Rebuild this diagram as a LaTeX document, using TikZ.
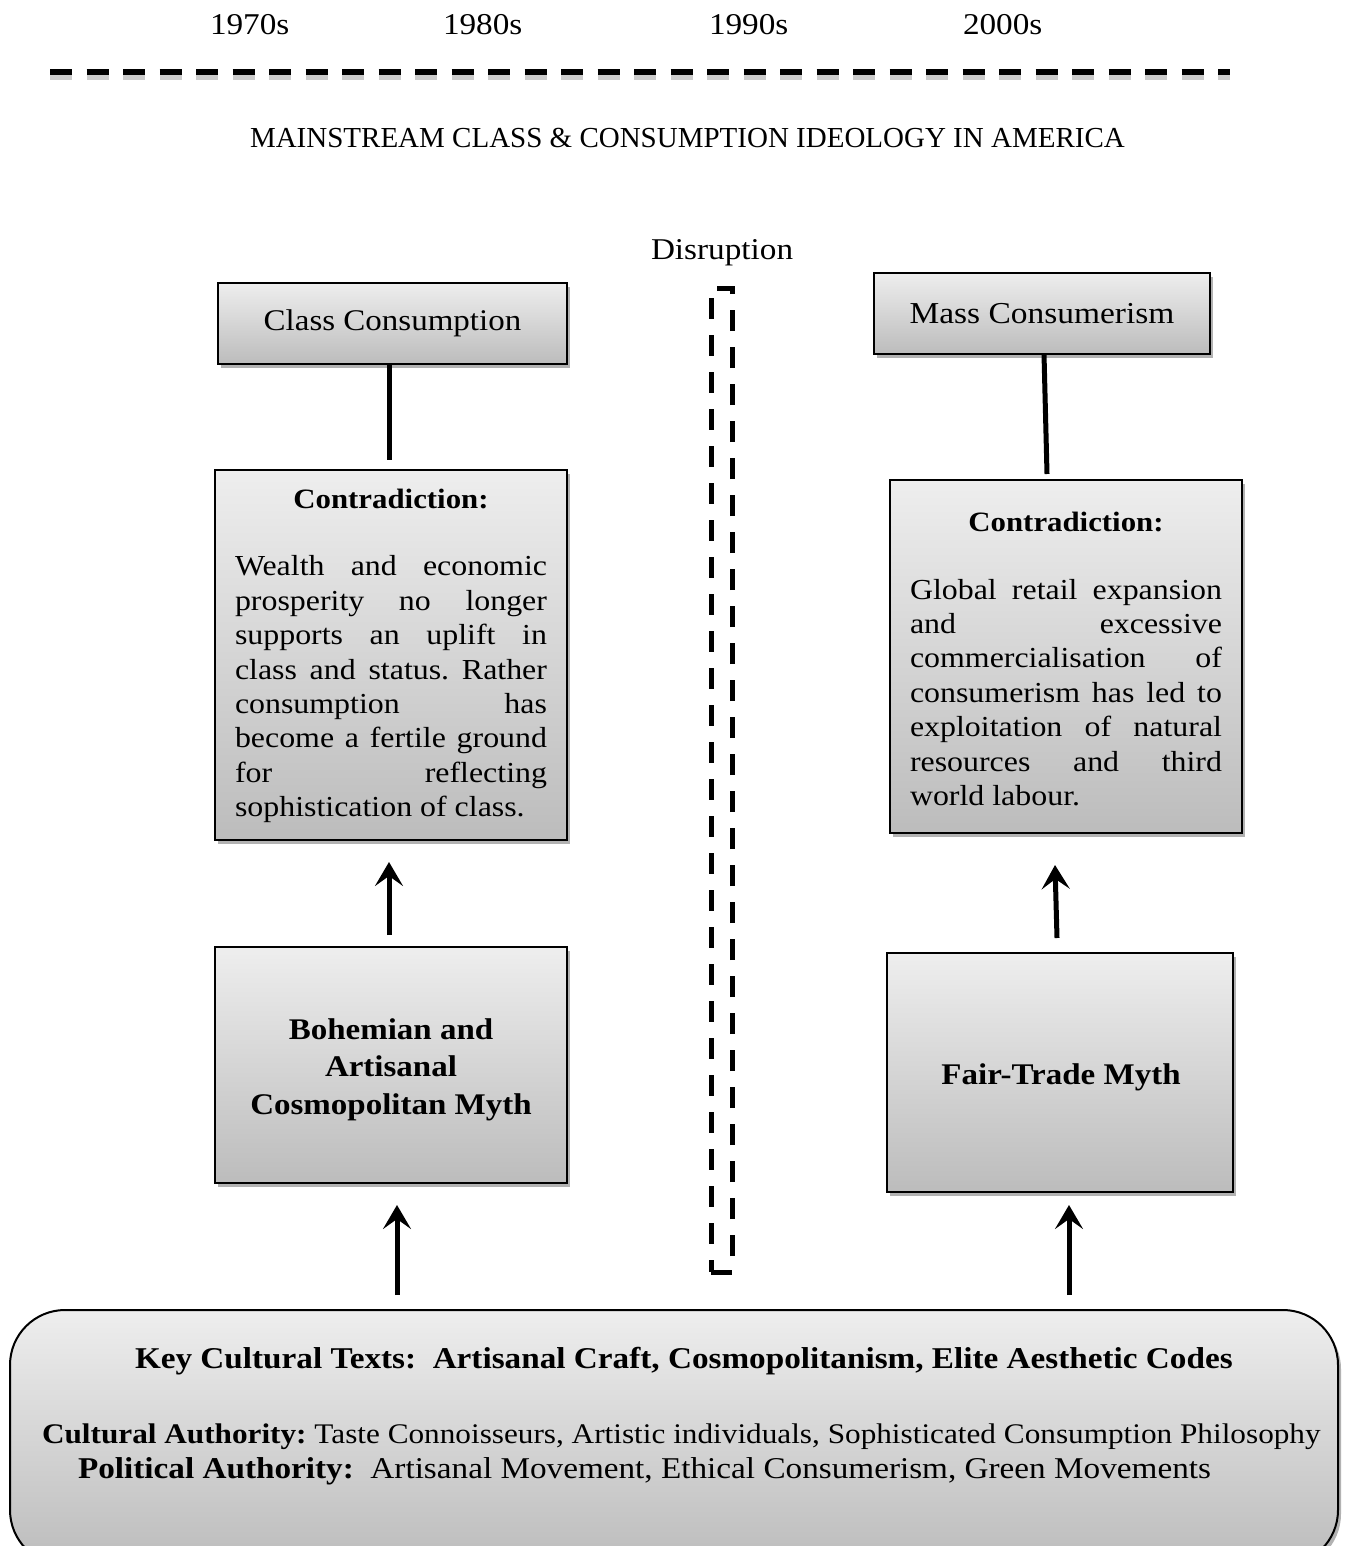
\documentclass[tikz,border=0pt]{standalone}
\usepackage{fontspec}
\setmainfont{Liberation Serif}[FakeStretch=1.1]
\newfontfamily\headfont{Liberation Serif}
\usetikzlibrary{arrows.meta,shadows,calc}
\frenchspacing

\definecolor{boxtop}{RGB}{238,238,238}
\definecolor{boxbot}{RGB}{188,188,188}

\begin{document}
\begin{tikzpicture}[x=1pt,y=-1pt,
  every node/.style={inner sep=0pt, outer sep=0pt},
  panel/.style={draw=black, line width=2pt, top color=boxtop, bottom color=boxbot,
    drop shadow={shadow xshift=3pt, shadow yshift=-4pt, opacity=0.3, fill=black}},
  bodytext/.style={font=\fontsize{29}{34.4}\selectfont},
  labeltext/.style={font=\fontsize{30.2}{34.4}\selectfont},
  boldtext/.style={font=\fontsize{30}{37.5}\selectfont\bfseries},
  bottomtext/.style={anchor=base west},
  link/.style={line width=5pt},
  flow/.style={line width=5pt, -{Stealth[length=24pt,width=28pt,inset=10pt]}},
  timeline/.style={line width=6pt, dash pattern=on 22pt off 14.5pt},
  gapline/.style={line width=5pt, dash pattern=on 21pt off 16pt}
]
\useasboundingbox (0,0) rectangle (1348,1546);

% decades along the top
\node[labeltext, anchor=base west] (y70) at (210,35) {1970s};
\node[labeltext, anchor=base west] (y80) at (443,35) {1980s};
\node[labeltext, anchor=base west] (y90) at (709,35) {1990s};
\node[labeltext, anchor=base west] (y00) at (963,35) {2000s};

% dashed time axis with its soft shadow
\coordinate (axisL) at (50,72);
\coordinate (axisR) at (1230,72);
\draw[timeline, draw=black, opacity=0.2, transform canvas={yshift=-5pt}] (axisL) -- (axisR);
\draw[timeline] (axisL) -- (axisR);

\node[anchor=base west, font=\headfont\fontsize{29}{34}\selectfont] (title) at (250,147.5)
  {MAINSTREAM CLASS \& CONSUMPTION IDEOLOGY IN AMERICA};

% disruption marker
\node[labeltext, anchor=base west] (disruptlabel) at (651,259) {Disruption};
\node[gapline, draw, minimum width=21pt, minimum height=984pt] (disrupt) at (721.5,780) {};

% left column
\node[panel, font=\fontsize{30}{34}\selectfont, minimum width=349pt, minimum height=81pt] (classC) at (392.5,323.5) {Class Consumption};

\node[panel, minimum width=352pt, minimum height=370pt] (contraL) at (391,655) {};
\node[bodytext, text width=312pt, align=justify] (contraLtext) at (391,656)
  {\makebox[312pt]{\fontsize{28}{34.4}\selectfont\bfseries Contradiction:}\par\vspace{33pt}
   Wealth and economic\linebreak
   prosperity no longer\linebreak
   supports an uplift in\linebreak
   class and status. Rather\linebreak
   consumption has\linebreak
   become a fertile ground\linebreak
   for reflecting\linebreak
   sophistication of class.};

\node[panel, minimum width=352pt, minimum height=236pt] (bohem) at (391,1065) {};
\node[boldtext, align=center, anchor=base] (bohemtext) at (391,1114)
  {Bohemian and\\Artisanal\\Cosmopolitan Myth};

% right column
\node[panel, font=\fontsize{30.4}{34}\selectfont, minimum width=336pt, minimum height=81pt] (massC) at (1042,313.5) {Mass Consumerism};

\node[panel, minimum width=352pt, minimum height=353pt] (contraR) at (1066,656.5) {};
\node[bodytext, text width=312pt, align=justify] (contraRtext) at (1066,659)
  {\makebox[312pt]{\fontsize{28}{34.4}\selectfont\bfseries Contradiction:}\par\vspace{33pt}
   Global retail expansion\linebreak
   and excessive\linebreak
   commercialisation of\linebreak
   consumerism has led to\linebreak
   exploitation of natural\linebreak
   resources and third\linebreak
   world labour.};

\node[panel, minimum width=346pt, minimum height=239pt] (fairT) at (1060,1072.5) {};
\node[boldtext, anchor=base] (fairtext) at (1061,1084) {Fair-Trade Myth};

% cultural base
\node[panel, rounded corners=55pt, minimum width=1328pt, minimum height=255pt] (base) at (674,1437.5) {};
\node[bottomtext, font=\fontsize{30.2}{35}\selectfont\bfseries] (keytexts) at (135,1368)
  {Key Cultural Texts:\ \ Artisanal Craft, Cosmopolitanism, Elite Aesthetic Codes};
\node[bottomtext, font=\fontsize{28.4}{35}\selectfont] (cultauth) at (42,1443)
  {\textbf{Cultural Authority:} Taste Connoisseurs, Artistic individuals, Sophisticated Consumption Philosophy};
\node[bottomtext, font=\fontsize{30.2}{35}\selectfont] (polauth) at (78,1478)
  {\textbf{Political Authority:}\ \ Artisanal Movement, Ethical Consumerism, Green Movements};

% connectors
\draw[link] ($(classC.south)+(-3.5,0)$) -- ($(contraL.north)+(-2,-10)$);
\draw[flow] ($(bohem.north)+(-2,-12)$) -- ($(contraL.south)+(-2,22)$);
\draw[flow] ($(bohem.south |- base.north)+(6,-15)$) -- ($(bohem.south)+(6,22)$);

\draw[link] ($(massC.south)+(2,0)$) -- ($(contraR.north)+(-19,-6)$);
\draw[flow] ($(fairT.north)+(-3,-15)$) -- ($(contraR.south)+(-11,32)$);
\draw[flow] ($(fairT.south |- base.north)+(9,-15)$) -- ($(fairT.south)+(9,13)$);
\end{tikzpicture}
\end{document}
